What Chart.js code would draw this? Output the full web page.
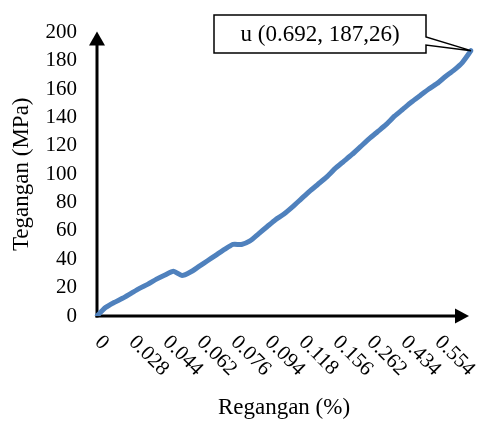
<!DOCTYPE html>
<html>
<head>
<meta charset="utf-8">
<script src="https://cdn.jsdelivr.net/npm/chart.js@4/dist/chart.umd.min.js"></script>
<style>
  html, body { margin: 0; padding: 0; background: #fff; }
</style>
</head>
<body>
<canvas id="chart" width="485" height="423"></canvas>
<script>
// strain labels shown under the axis (every 4th sample)
const tickLabels = ["0", "0.028", "0.044", "0.062", "0.076", "0.094", "0.118", "0.156", "0.262", "0.434", "0.554"];
const lastStrain = "0.692";
const samplesPerTick = 4;

// stress (MPa)
const stressValues = [
  0, 6, 9.5, 12.5, 16, 19.5, 22.5, 26, 29, 31.5,
  28.5, 31, 35, 39, 43, 47, 50.5, 50.5, 53, 58,
  63, 68, 72, 77, 82.5, 88, 93, 98, 104, 109,
  114, 119.5, 125, 130, 135, 141, 146, 151, 155.5, 160,
  164, 169, 173.5, 179, 187.26
];

const peakText = "u (0.692, 187,26)";

const serif = "'Liberation Serif', 'Times New Roman', serif";

function dqs(q) {
  return document.querySelector(q);
}

// category list: named entries where a tick label sits, blanks between
const categories = stressValues.map((v, i) => {
  if (i === stressValues.length - 1) return lastStrain;
  return i % samplesPerTick === 0 ? tickLabels[i / samplesPerTick] || "" : "";
});

const axesPlugin = {
  id: "axes",
  beforeDatasetsDraw(chart) {
    const { ctx, chartArea } = chart;
    const { left, right, top, bottom } = chartArea;
    ctx.save();
    ctx.strokeStyle = "#000";
    ctx.fillStyle = "#000";
    ctx.lineWidth = 3;
    // y axis
    ctx.beginPath();
    ctx.moveTo(left, bottom + 1.5);
    ctx.lineTo(left, top + 10);
    ctx.stroke();
    ctx.beginPath();
    ctx.moveTo(left, top - 1);
    ctx.lineTo(left - 8, top + 13);
    ctx.lineTo(left + 8, top + 13);
    ctx.closePath();
    ctx.fill();
    // x axis
    ctx.beginPath();
    ctx.moveTo(left - 1.5, bottom);
    ctx.lineTo(right - 12, bottom);
    ctx.stroke();
    ctx.beginPath();
    ctx.moveTo(right - 2, bottom);
    ctx.lineTo(right - 16, bottom - 7.5);
    ctx.lineTo(right - 16, bottom + 7.5);
    ctx.closePath();
    ctx.fill();
    ctx.restore();
  },
};

const labelsPlugin = {
  id: "slantLabels",
  afterDraw(chart) {
    const { ctx, chartArea } = chart;
    const xScale = chart.scales.x;
    ctx.save();
    ctx.fillStyle = "#000";
    ctx.font = `21px ${serif}`;
    ctx.textAlign = "left";
    ctx.textBaseline = "middle";
    tickLabels.forEach((label, k) => {
      const px = xScale.getPixelForValue(k * samplesPerTick);
      ctx.save();
      ctx.translate(px + 1, chartArea.bottom + 23);
      ctx.rotate(Math.PI / 4);
      ctx.fillText(label, 0, 0);
      ctx.restore();
    });
    ctx.restore();
  },
};

const calloutPlugin = {
  id: "callout",
  afterDatasetsDraw(chart) {
    const { ctx } = chart;
    const last = stressValues.length - 1;
    const tipX = chart.scales.x.getPixelForValue(last);
    const tipY = chart.scales.y.getPixelForValue(stressValues[last]);
    const boxRight = tipX - 45;
    const boxLeft = boxRight - 212;
    const boxTop = 15;
    const boxBottom = 53;
    ctx.save();
    ctx.beginPath();
    ctx.moveTo(boxLeft, boxTop);
    ctx.lineTo(boxRight, boxTop);
    ctx.lineTo(boxRight, boxTop + 22);
    ctx.lineTo(tipX, tipY);
    ctx.lineTo(boxRight, boxTop + 30);
    ctx.lineTo(boxRight, boxBottom);
    ctx.lineTo(boxLeft, boxBottom);
    ctx.closePath();
    ctx.fillStyle = "#fff";
    ctx.fill();
    ctx.strokeStyle = "#000";
    ctx.lineWidth = 1.5;
    ctx.stroke();
    ctx.fillStyle = "#000";
    ctx.font = `23px ${serif}`;
    ctx.textAlign = "center";
    ctx.textBaseline = "middle";
    ctx.fillText(peakText, (boxLeft + boxRight) / 2, (boxTop + boxBottom) / 2 + 1);
    ctx.restore();
  },
};

new Chart(dqs("#chart").getContext("2d"), {
  type: "line",
  data: {
    labels: categories,
    datasets: [
      {
        data: stressValues,
        borderColor: "rgb(79, 129, 189)",
        borderWidth: 5,
        pointRadius: 0,
        tension: 0.2,
        fill: false,
        borderCapStyle: "round",
        borderJoinStyle: "round",
      },
    ],
  },
  options: {
    responsive: false,
    animation: false,
    layout: { padding: { left: 0, right: 14, top: 22, bottom: 0 } },
    plugins: {
      legend: { display: false },
      tooltip: { enabled: false },
    },
    scales: {
      x: {
        type: "category",
        offset: false,
        grid: { display: false, drawTicks: false },
        border: { display: false },
        ticks: { display: false },
        title: {
          display: true,
          text: "Regangan (%)",
          color: "#000",
          font: { family: serif, size: 23 },
          padding: { top: 0, bottom: 1 },
        },
        afterFit: (scale) => {
          scale.height = 107;
        },
      },
      y: {
        min: 0,
        max: 200,
        grid: { display: false, drawTicks: false },
        border: { display: false },
        ticks: {
          stepSize: 20,
          color: "#000",
          padding: 20,
          font: { family: serif, size: 21 },
        },
        title: {
          display: true,
          text: "Tegangan (MPa)",
          color: "#000",
          font: { family: serif, size: 23 },
          padding: { top: 8, bottom: 0 },
        },
        afterFit: (scale) => {
          scale.width = 97;
        },
      },
    },
  },
  plugins: [axesPlugin, labelsPlugin, calloutPlugin],
});
</script>
</body>
</html>
